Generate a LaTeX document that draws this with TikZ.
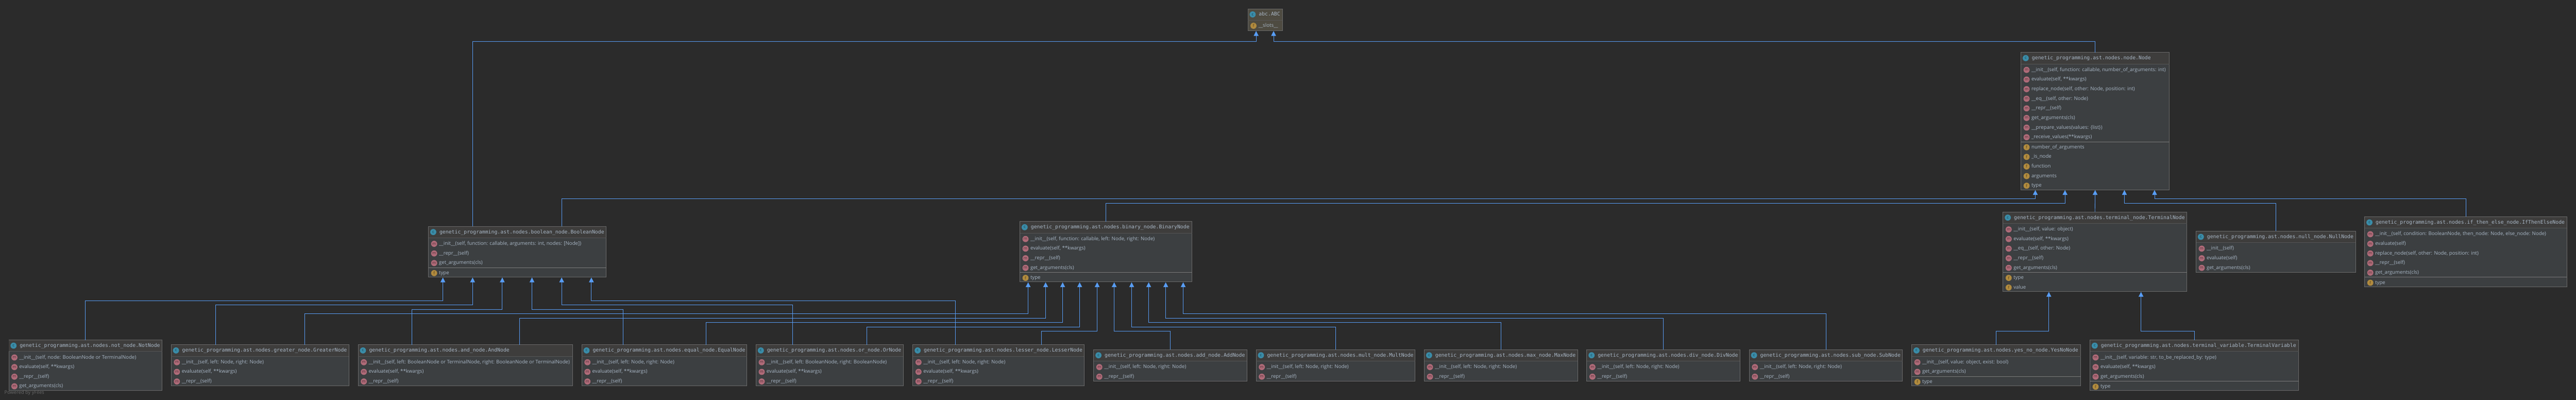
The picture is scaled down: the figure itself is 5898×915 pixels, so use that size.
\documentclass[tikz,border=0pt]{standalone}
\usepackage{fontspec}
\setmainfont{Open Sans}
\newfontfamily\umlmono{DejaVu Sans Mono}
\usetikzlibrary{arrows.meta}

\definecolor{bgcol}{HTML}{2B2B2B}
\definecolor{bodycol}{HTML}{3C3F41}
\definecolor{headcol}{HTML}{3E3D3C}
\definecolor{extcol}{HTML}{4E4B41}
\definecolor{edgecol}{HTML}{6A6A6A}
\definecolor{headsep}{HTML}{555555}
\definecolor{fieldsep}{HTML}{7A7A7A}
\definecolor{inkcol}{HTML}{A9B7C6}
\definecolor{linkcol}{HTML}{589DF6}
\definecolor{iconc}{HTML}{3A8CA8}
\definecolor{iconm}{HTML}{B06B79}
\definecolor{iconf}{HTML}{B08A3E}

\tikzset{
	classbody/.style={draw=edgecol,fill=bodycol,line width=1pt,inner sep=0pt,outer sep=0pt,anchor=north west},
	classtitle/.style={anchor=west,inner sep=0pt,text=inkcol,font=\umlmono\fontsize{11.6}{14}\selectfont,text height=9pt,text depth=2pt},
	rowtext/.style={anchor=west,inner sep=0pt,text=inkcol,font=\fontsize{11.4}{14}\selectfont,text height=9pt,text depth=3pt},
	umlicon/.style={circle,minimum size=14pt,inner sep=0pt,font=\fontsize{9}{10}\selectfont},
	cicon/.style={umlicon,fill=iconc,text=iconc!45!black},
	micon/.style={umlicon,fill=iconm,text=iconm!45!black},
	ficon/.style={umlicon,fill=iconf,text=iconf!45!black},
	inherits/.style={draw=linkcol,line width=1pt,-{Triangle[width=11pt,length=11pt,fill=linkcol]}},
}

% name, x, y, width, height, title
\newcommand{\classbox}[6]{
	\node[classbody,minimum width=#4pt,minimum height=#5pt] (#1) at (#2,#3) {};
	\fill[headcol] ([shift={(0.5,0.5)}]#1.north west) rectangle ([shift={(-0.5,26)}]#1.north east);
	\draw[headsep] ([yshift=-26pt]#1.north west) -- ([yshift=-26pt]#1.north east);
	\node[cicon] (#1c) at ([shift={(11,13)}]#1.north west) {c};
	\node[classtitle] (#1t) at ([shift={(25,13)}]#1.north west) {#6};
}
% name, methods
\newcommand{\umlmethods}[2]{
	\foreach \t [count=\i from 0] in {#2} {
		\node[micon] (#1i\i) at ([shift={(13,{40+22*\i})}]#1.north west) {m};
		\node[rowtext] (#1m\i) at ([shift={(24,{40+22*\i})}]#1.north west) {\t};
	}
}
% name, number of methods, fields
\newcommand{\umlfields}[3]{
	\draw[fieldsep] ([shift={(0,{28+22*#2})}]#1.north west) -- ([shift={(0,{28+22*#2})}]#1.north east);
	\foreach \t [count=\i from 0] in {#3} {
		\node[ficon] (#1j\i) at ([shift={(13,{41+22*#2+22*\i})}]#1.north west) {f};
		\node[rowtext] (#1f\i) at ([shift={(24,{41+22*#2+22*\i})}]#1.north west) {\t};
	}
}
% child end, height of the lane, tip
\newcommand{\inh}[3]{
	\draw[inherits] (#1) |- (#3 |- 0,#2) -- (#3);
}

\begin{document}
\catcode`\_=12
\begin{tikzpicture}[x=1pt,y=-1pt]
	\fill[bgcol] (0,0) rectangle (5898,915);
	\useasboundingbox (0,0) rectangle (5898,915);

	\node[classbody,draw=edgecol,fill=extcol,minimum width=79pt,minimum height=50pt] (abcBox) at (2857,20) {};
	\draw[headsep] ([yshift=-26pt]abcBox.north west) -- ([yshift=-26pt]abcBox.north east);
	\node[cicon] (abcBoxc) at ([shift={(11,13)}]abcBox.north west) {c};
	\node[classtitle] (abcBoxt) at ([shift={(25,13)}]abcBox.north west) {abc.ABC};
	\node[ficon] (abcBoxj) at ([shift={(13,39)}]abcBox.north west) {f};
	\node[rowtext] (abcBoxf) at ([shift={(24,39)}]abcBox.north west) {__slots__};

	\classbox{nodeBox}{4627}{120}{340}{314}{genetic_programming.ast.nodes.node.Node}
	\umlmethods{nodeBox}{{__init__(self, function: callable, number_of_arguments: int)},{evaluate(self, **kwargs)},{replace_node(self, other: Node, position: int)},{__eq__(self, other: Node)},{__repr__(self)},{get_arguments(cls)},{__prepare_values(values: \{list\})},{_receive_values(**kwargs)}}
	\umlfields{nodeBox}{8}{number_of_arguments,_is_node,function,arguments,type}

	\classbox{boolBox}{981}{518}{407}{116}{genetic_programming.ast.nodes.boolean_node.BooleanNode}
	\umlmethods{boolBox}{{__init__(self, function: callable, arguments: int, nodes: [Node])},{__repr__(self)},{get_arguments(cls)}}
	\umlfields{boolBox}{3}{type}

	\classbox{binBox}{2335}{507}{394}{138}{genetic_programming.ast.nodes.binary_node.BinaryNode}
	\umlmethods{binBox}{{__init__(self, function: callable, left: Node, right: Node)},{evaluate(self, **kwargs)},{__repr__(self)},{get_arguments(cls)}}
	\umlfields{binBox}{4}{type}

	\classbox{termBox}{4586}{485}{421}{182}{genetic_programming.ast.nodes.terminal_node.TerminalNode}
	\umlmethods{termBox}{{__init__(self, value: object)},{evaluate(self, **kwargs)},{__eq__(self, other: Node)},{__repr__(self)},{get_arguments(cls)}}
	\umlfields{termBox}{5}{type,value}

	\classbox{nullBox}{5028}{529}{365}{94}{genetic_programming.ast.nodes.null_node.NullNode}
	\umlmethods{nullBox}{{__init__(self)},{evaluate(self)},{get_arguments(cls)}}

	\classbox{ifBox}{5414}{496}{463}{160}{genetic_programming.ast.nodes.if_then_else_node.IfThenElseNode}
	\umlmethods{ifBox}{{__init__(self, condition: BooleanNode, then_node: Node, else_node: Node)},{evaluate(self)},{replace_node(self, other: Node, position: int)},{__repr__(self)},{get_arguments(cls)}}
	\umlfields{ifBox}{5}{type}

	\classbox{notBox}{20}{778}{351}{116}{genetic_programming.ast.nodes.not_node.NotNode}
	\umlmethods{notBox}{{__init__(self, node: BooleanNode or TerminalNode)},{evaluate(self, **kwargs)},{__repr__(self)},{get_arguments(cls)}}

	\classbox{greaterBox}{392}{789}{407}{94}{genetic_programming.ast.nodes.greater_node.GreaterNode}
	\umlmethods{greaterBox}{{__init__(self, left: Node, right: Node)},{evaluate(self, **kwargs)},{__repr__(self)}}

	\classbox{andBox}{820}{789}{491}{94}{genetic_programming.ast.nodes.and_node.AndNode}
	\umlmethods{andBox}{{__init__(self, left: BooleanNode or TerminalNode, right: BooleanNode or TerminalNode)},{evaluate(self, **kwargs)},{__repr__(self)}}

	\classbox{equalBox}{1332}{789}{378}{94}{genetic_programming.ast.nodes.equal_node.EqualNode}
	\umlmethods{equalBox}{{__init__(self, left: Node, right: Node)},{evaluate(self, **kwargs)},{__repr__(self)}}

	\classbox{orBox}{1731}{789}{337}{94}{genetic_programming.ast.nodes.or_node.OrNode}
	\umlmethods{orBox}{{__init__(self, left: BooleanNode, right: BooleanNode)},{evaluate(self, **kwargs)},{__repr__(self)}}

	\classbox{lesserBox}{2090}{789}{392}{94}{genetic_programming.ast.nodes.lesser_node.LesserNode}
	\umlmethods{lesserBox}{{__init__(self, left: Node, right: Node)},{evaluate(self, **kwargs)},{__repr__(self)}}

	\classbox{addBox}{2504}{800}{351}{72}{genetic_programming.ast.nodes.add_node.AddNode}
	\umlmethods{addBox}{{__init__(self, left: Node, right: Node)},{__repr__(self)}}

	\classbox{multBox}{2876}{800}{364}{72}{genetic_programming.ast.nodes.mult_node.MultNode}
	\umlmethods{multBox}{{__init__(self, left: Node, right: Node)},{__repr__(self)}}

	\classbox{maxBox}{3261}{800}{351}{72}{genetic_programming.ast.nodes.max_node.MaxNode}
	\umlmethods{maxBox}{{__init__(self, left: Node, right: Node)},{__repr__(self)}}

	\classbox{divBox}{3633}{800}{351}{72}{genetic_programming.ast.nodes.div_node.DivNode}
	\umlmethods{divBox}{{__init__(self, left: Node, right: Node)},{__repr__(self)}}

	\classbox{subBox}{4005}{800}{351}{72}{genetic_programming.ast.nodes.sub_node.SubNode}
	\umlmethods{subBox}{{__init__(self, left: Node, right: Node)},{__repr__(self)}}

	\classbox{yesBox}{4377}{789}{387}{94}{genetic_programming.ast.nodes.yes_no_node.YesNoNode}
	\umlmethods{yesBox}{{__init__(self, value: object, exist: bool)},{get_arguments(cls)}}
	\umlfields{yesBox}{2}{type}

	\classbox{varBox}{4785}{778}{478}{116}{genetic_programming.ast.nodes.terminal_variable.TerminalVariable}
	\umlmethods{varBox}{{__init__(self, variable: str, to_be_replaced_by: type)},{evaluate(self, **kwargs)},{get_arguments(cls)}}
	\umlfields{varBox}{3}{type}

	\node[anchor=west,inner sep=0pt,text=edgecol,font=\fontsize{11}{13}\selectfont] (yfiles) at (10,899) {Powered by yFiles};

	\foreach \n/\x in {A/2876,B/2916} \coordinate (abc\n) at (\x,71);
	\foreach \n/\x in {A/4660,B/4728,C/4797,D/4864,E/4933} \coordinate (node\n) at (\x,435);
	\foreach \n/\x in {A/1014,B/1082,C/1150,D/1218,E/1286,F/1354} \coordinate (bool\n) at (\x,635);
	\foreach \n/\x in {A/2354,B/2394,C/2433,D/2472,E/2512,F/2551,G/2591,H/2630,I/2669,J/2709} \coordinate (bin\n) at (\x,646);
	\foreach \n/\x in {A/4691,B/4902} \coordinate (term\n) at (\x,668);

	\inh{[xshift=-102pt]boolBox.north}{95}{abcA}
	\inh{nodeBox.north}{95}{abcB}

	\inh{[xshift=102pt]boolBox.north}{455}{nodeA}
	\inh{binBox.north}{465}{nodeB}
	\draw[inherits] (termBox.north) -- (nodeC);
	\inh{nullBox.north}{465}{nodeD}
	\inh{ifBox.north}{455}{nodeE}

	\inh{notBox.north}{688}{boolA}
	\inh{[xshift=-101.5pt]greaterBox.north}{698}{boolB}
	\inh{[xshift=-122.5pt]andBox.north}{708}{boolC}
	\inh{[xshift=-94pt]equalBox.north}{708}{boolD}
	\inh{[xshift=-84.5pt]orBox.north}{698}{boolE}
	\inh{[xshift=-99pt]lesserBox.north}{688}{boolF}

	\inh{[xshift=102.5pt]greaterBox.north}{718}{binA}
	\inh{[xshift=123.5pt]andBox.north}{728}{binB}
	\inh{[xshift=96pt]equalBox.north}{738}{binC}
	\inh{[xshift=85.5pt]orBox.north}{748}{binD}
	\inh{[xshift=99pt]lesserBox.north}{758}{binE}
	\inh{addBox.north}{758}{binF}
	\inh{multBox.north}{748}{binG}
	\inh{maxBox.north}{738}{binH}
	\inh{divBox.north}{728}{binI}
	\inh{subBox.north}{718}{binJ}

	\inh{yesBox.north}{758}{termA}
	\inh{varBox.north}{758}{termB}
\end{tikzpicture}
\end{document}
